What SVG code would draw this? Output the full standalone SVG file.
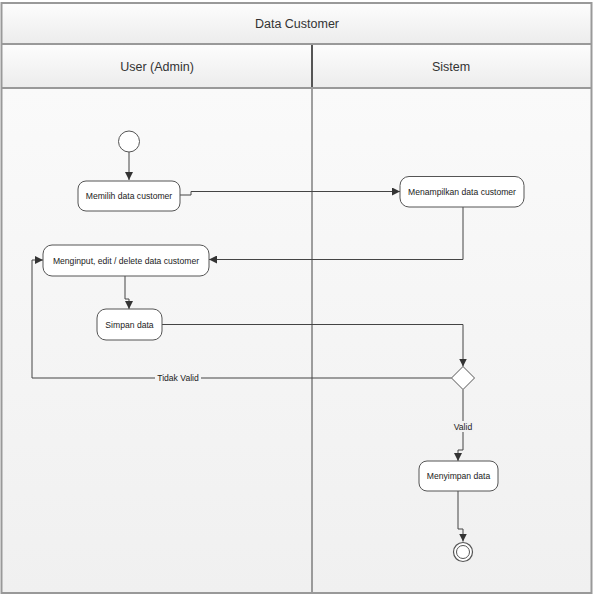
<svg xmlns="http://www.w3.org/2000/svg" width="595" height="600" viewBox="0 0 595 600">
<defs>
<linearGradient id="hdr" x1="0" y1="0" x2="0" y2="1">
<stop offset="0" stop-color="#fdfdfd"/>
<stop offset="1" stop-color="#ececec"/>
</linearGradient>
<linearGradient id="body" x1="0" y1="0" x2="0" y2="1">
<stop offset="0" stop-color="#fafafa"/>
<stop offset="1" stop-color="#f0f0f0"/>
</linearGradient>
<marker id="arr" viewBox="0 0 10 10" refX="10" refY="5" markerWidth="8" markerHeight="8" markerUnits="userSpaceOnUse" orient="auto">
<path d="M0,0 L10,5 L0,10 z" fill="#333"/>
</marker>
<style>
.hd{font-family:"Liberation Sans","DejaVu Sans",sans-serif;font-size:12.5px;fill:#333;text-anchor:middle}
.nt{font-family:"Liberation Sans","DejaVu Sans",sans-serif;font-size:8.6px;fill:#222;text-anchor:middle}
.lb{font-family:"Liberation Sans","DejaVu Sans",sans-serif;font-size:8.6px;fill:#222;text-anchor:middle}
.node{fill:#fff;stroke:#555;stroke-width:1}
.c{fill:none;stroke:#444;stroke-width:1}
.ca{fill:none;stroke:#444;stroke-width:1;marker-end:url(#arr)}
</style>
</defs>
<rect x="0" y="0" width="595" height="600" fill="#ffffff"/>
<g id="frame">
<rect x="1.5" y="88" width="590" height="505" fill="url(#body)"/>
<rect x="1.5" y="3" width="590" height="41" fill="url(#hdr)"/>
<rect x="1.5" y="44" width="590" height="44" fill="url(#hdr)"/>
<line x1="312" y1="88" x2="312" y2="593" stroke="#444" stroke-width="1"/>
<line x1="312" y1="44" x2="312" y2="88" stroke="#555" stroke-width="2"/>
<line x1="1.5" y1="44" x2="591.5" y2="44" stroke="#999" stroke-width="2"/>
<line x1="1.5" y1="88" x2="591.5" y2="88" stroke="#999" stroke-width="2"/>
<rect x="1.5" y="3" width="590" height="590" fill="none" stroke="#999" stroke-width="2"/>
<text class="hd" x="297" y="28">Data Customer</text>
<text class="hd" x="157" y="71">User (Admin)</text>
<text class="hd" x="451" y="71">Sistem</text>
</g>
<g id="connectors">
<path class="ca" d="M129,152 V180"/>
<path class="ca" d="M180,195 H191 V191.5 H400"/>
<path class="ca" d="M463,207 V259.5 H209"/>
<path class="ca" d="M125,276 V299 H129 V309"/>
<path class="ca" d="M162,324.5 H463 V366.5"/>
<path class="ca" d="M451.5,378 H32 V260 H43"/>
<path class="ca" d="M463,389.5 V450 H458 V461"/>
<path class="ca" d="M458,491 V529 H463 V541.5"/>
<rect x="155" y="372" width="46" height="11" fill="#f4f4f4"/>
<text class="lb" x="178" y="380.5">Tidak Valid</text>
<rect x="452" y="421" width="22" height="11" fill="#f2f2f2"/>
<text class="lb" x="463" y="430">Valid</text>
</g>
<g id="start">
<circle cx="129" cy="141.5" r="10.5" fill="#fff" stroke="#555" stroke-width="1"/>
</g>
<g id="memilih">
<rect class="node" x="78" y="181" width="102" height="30" rx="8"/>
<text class="nt" x="129" y="199">Memilih data customer</text>
</g>
<g id="menampilkan">
<rect class="node" x="400" y="176.5" width="124" height="30.5" rx="9"/>
<text class="nt" x="462" y="195">Menampilkan data customer</text>
</g>
<g id="menginput">
<rect class="node" x="43" y="245" width="166" height="31" rx="9"/>
<text class="nt" x="126" y="263.5">Menginput, edit / delete data customer</text>
</g>
<g id="simpan">
<rect class="node" x="97" y="309" width="65" height="31" rx="9"/>
<text class="nt" x="129.5" y="327.5">Simpan data</text>
</g>
<g id="decision">
<path d="M463,366.5 L474.5,378 L463,389.5 L451.5,378 Z" fill="#fff" stroke="#555" stroke-width="1"/>
</g>
<g id="menyimpan">
<rect class="node" x="419" y="461" width="79" height="30" rx="8"/>
<text class="nt" x="458.5" y="479">Menyimpan data</text>
</g>
<g id="end">
<circle cx="463" cy="552" r="9.5" fill="#fff" stroke="#555" stroke-width="1.2"/>
<circle cx="463" cy="552" r="6.5" fill="#fff" stroke="#555" stroke-width="1"/>
</g>
</svg>
